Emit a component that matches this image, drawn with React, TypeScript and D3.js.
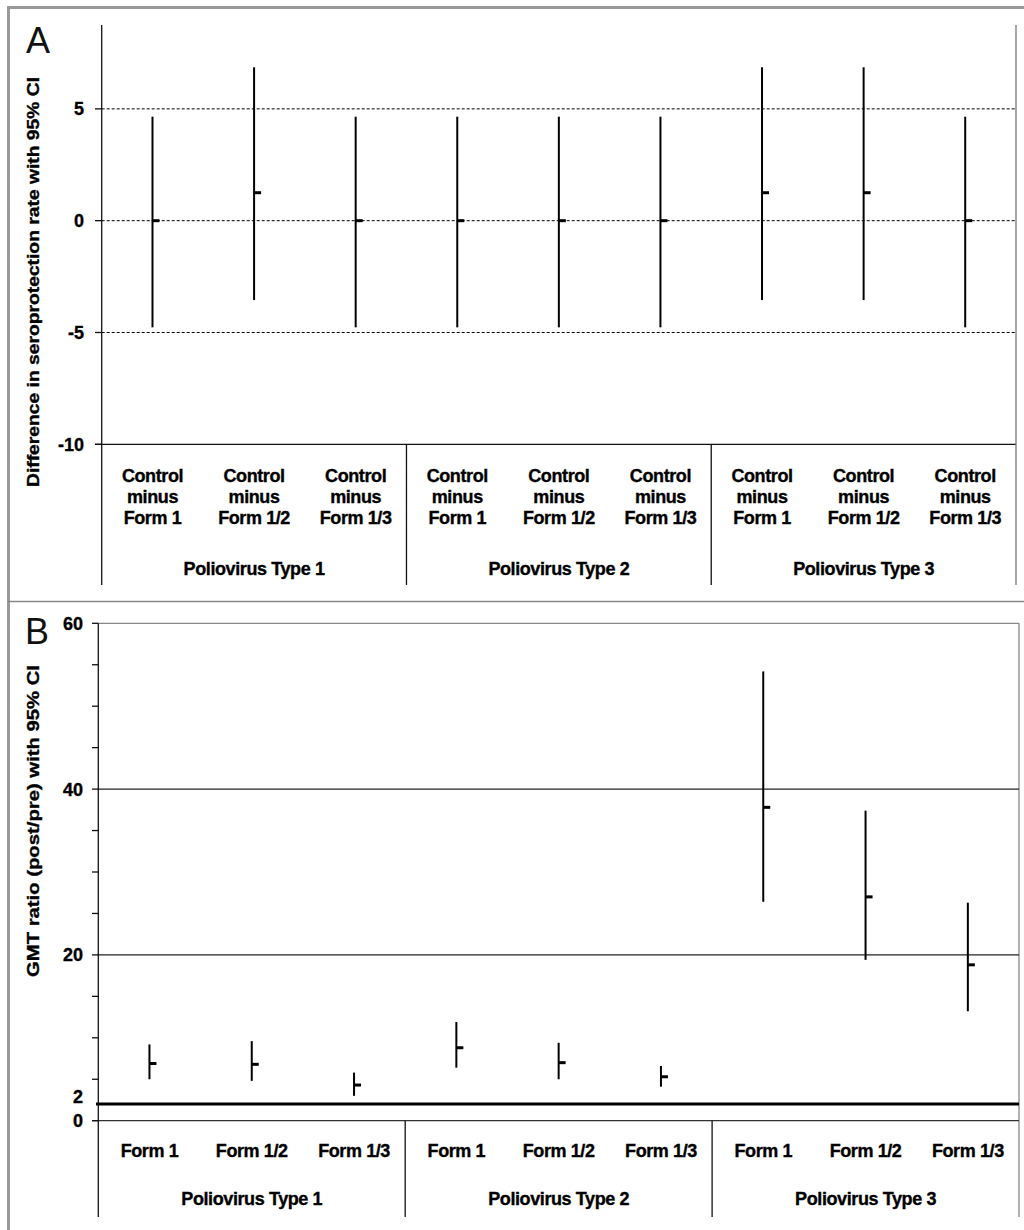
import React from 'react';
import * as d3 from 'd3';

// categories
const groups = ['Poliovirus Type 1', 'Poliovirus Type 2', 'Poliovirus Type 3'];
const forms = ['Form 1', 'Form 1/2', 'Form 1/3'];

// panel A: control minus form, difference in seroprotection rate (95% CI)
const diffPoint = [0, 1.25, 0, 0, 0, 0, 1.25, 1.25, 0];
const diffLow = [-4.77, -3.55, -4.77, -4.77, -4.77, -4.77, -3.55, -3.55, -4.77];
const diffHigh = [4.65, 6.86, 4.65, 4.65, 4.65, 4.65, 6.86, 6.86, 4.65];
const diffTicks = [5, 0, -5, -10];
const diffGrid = [5, 0, -5];

// panel B: GMT ratio (post/pre) with 95% CI
const gmtPoint = [6.9, 6.8, 4.3, 8.8, 7.0, 5.3, 37.8, 27.0, 18.8];
const gmtLow = [5.0, 4.8, 3.0, 6.4, 5.0, 4.1, 26.4, 19.4, 13.2];
const gmtHigh = [9.2, 9.6, 5.8, 11.9, 9.4, 6.6, 54.2, 37.4, 26.3];
const gmtTickLabels = [60, 40, 20, 2, 0];
const gmtMinorTicks = d3.range(0, 61, 5);
const gmtGrid = [40, 20];
const gmtThreshold = 2;

const FONT = '"Liberation Sans", Arial, Helvetica, sans-serif';
// the scanned labels look heavier than plain bold
const heavy = { stroke: '#000', strokeWidth: 0.35, paintOrder: 'stroke' } as const;

const cats = d3.range(9);

const ErrorBars: React.FC<{
  x: d3.ScaleBand<number>;
  y: d3.ScaleLinear<number, number>;
  pt: number[];
  lo: number[];
  hi: number[];
}> = ({ x, y, pt, lo, hi }) => (
  <g>
    {cats.map(i => {
      const cx = (x(i) ?? 0) + x.bandwidth() / 2;
      return (
        <g key={i}>
          <line x1={cx} x2={cx} y1={y(lo[i])} y2={y(hi[i])} stroke="#000" strokeWidth={2} />
          <line x1={cx} x2={cx + 7} y1={y(pt[i])} y2={y(pt[i])} stroke="#000" strokeWidth={3} />
        </g>
      );
    })}
  </g>
);

export default function App() {
  // panel A scales
  const xA = d3.scaleBand<number>().domain(cats).range([101.7, 1016]).padding(0);
  const yA = d3.scaleLinear().domain([-10, 8.75]).range([444.3, 25]);
  // panel B scales
  const xB = d3.scaleBand<number>().domain(cats).range([98.3, 1019]).padding(0);
  const yB = d3.scaleLinear().domain([0, 60]).range([1120.7, 623.3]);

  const groupW = (sc: d3.ScaleBand<number>) => sc.bandwidth() * 3;
  const bottomA = 585;
  const bottomB = 1217;

  return (
    <div style={{ position: 'absolute', left: 0, top: 0 }}>
      <svg width={1024} height={1230} style={{ display: 'block', background: '#fff' }} fontFamily={FONT}>
        {/* frame */}
        <line x1={8.5} x2={8.5} y1={6} y2={1230} stroke="#999" strokeWidth={3} />
        <line x1={7} x2={1024} y1={7.5} y2={7.5} stroke="#999" strokeWidth={3} />
        <line x1={8} x2={1024} y1={601.5} y2={601.5} stroke="#888" strokeWidth={1.5} />

        {/* ===== Panel A ===== */}
        <text x={26} y={53} fontSize={36} fill="#111">A</text>
        <text
          transform={`translate(39,282) rotate(-90)`}
          textAnchor="middle"
          fontSize={17}
          fontWeight="bold"
          textLength={410}
          lengthAdjust="spacingAndGlyphs"
          {...heavy}
        >
          Difference in seroprotection rate with 95% CI
        </text>

        {diffGrid.map(v => (
          <line key={v} x1={101.7} x2={1016} y1={yA(v)} y2={yA(v)} stroke="#000" strokeWidth={1} strokeDasharray="3,2" />
        ))}
        {/* x axis at -10 */}
        <line x1={95} x2={1016} y1={yA(-10)} y2={yA(-10)} stroke="#111" strokeWidth={1.3} />
        {/* y axis */}
        <line x1={101.7} x2={101.7} y1={yA(8.75)} y2={bottomA} stroke="#111" strokeWidth={1.3} />
        <line x1={1016} x2={1016} y1={yA(8.75)} y2={bottomA} stroke="#777" strokeWidth={1.3} />
        {diffTicks.map(v => (
          <g key={v}>
            <line x1={95} x2={101.7} y1={yA(v)} y2={yA(v)} stroke="#111" strokeWidth={1.3} />
            <text x={84} y={yA(v) + 6.5} textAnchor="end" fontSize={18} fontWeight="bold" {...heavy}>{v}</text>
          </g>
        ))}
        {/* group separators */}
        {[1, 2].map(g => {
          const gx = 101.7 + groupW(xA) * g;
          return <line key={g} x1={gx} x2={gx} y1={yA(-10)} y2={bottomA} stroke="#111" strokeWidth={1.3} />;
        })}
        {cats.map(i => {
          const cx = (xA(i) ?? 0) + xA.bandwidth() / 2;
          return (
            <text key={i} textAnchor="middle" fontSize={18} fontWeight="bold" letterSpacing={-0.4} {...heavy}>
              <tspan x={cx} y={482}>Control</tspan>
              <tspan x={cx} y={503}>minus</tspan>
              <tspan x={cx} y={524}>{forms[i % 3]}</tspan>
            </text>
          );
        })}
        {groups.map((g, gi) => (
          <text key={g} x={101.7 + groupW(xA) * (gi + 0.5)} y={575} textAnchor="middle" fontSize={18} fontWeight="bold" letterSpacing={-0.4} {...heavy}>
            {g}
          </text>
        ))}
        <ErrorBars x={xA} y={yA} pt={diffPoint} lo={diffLow} hi={diffHigh} />

        {/* ===== Panel B ===== */}
        <text x={25} y={644} fontSize={36} fill="#111">B</text>
        <text
          transform={`translate(39,821) rotate(-90)`}
          textAnchor="middle"
          fontSize={17}
          fontWeight="bold"
          textLength={312}
          lengthAdjust="spacingAndGlyphs"
          {...heavy}
        >
          GMT ratio (post/pre) with 95% CI
        </text>

        {/* plot box top + right */}
        <line x1={98.3} x2={1019} y1={yB(60)} y2={yB(60)} stroke="#888" strokeWidth={1.3} />
        <line x1={1019} x2={1019} y1={yB(60)} y2={bottomB} stroke="#888" strokeWidth={1.3} />
        {gmtGrid.map(v => (
          <line key={v} x1={98.3} x2={1019} y1={yB(v)} y2={yB(v)} stroke="#222" strokeWidth={1.1} />
        ))}
        {/* x axis at 0 */}
        <line x1={92} x2={1019} y1={yB(0)} y2={yB(0)} stroke="#333" strokeWidth={1.3} />
        {/* threshold line */}
        <line x1={96} x2={1019} y1={yB(gmtThreshold)} y2={yB(gmtThreshold)} stroke="#000" strokeWidth={3} />
        {/* y axis */}
        <line x1={98.3} x2={98.3} y1={yB(60)} y2={bottomB} stroke="#111" strokeWidth={1.3} />
        {gmtMinorTicks.map(v => (
          <line key={v} x1={92} x2={98.3} y1={yB(v)} y2={yB(v)} stroke="#111" strokeWidth={1.3} />
        ))}
        {gmtTickLabels.map(v => (
          <text key={v} x={83} y={yB(v) + (v === gmtThreshold ? -1 : 6.5)} textAnchor="end" fontSize={18} fontWeight="bold" {...heavy}>
            {v}
          </text>
        ))}
        {[1, 2].map(g => {
          const gx = 98.3 + groupW(xB) * g;
          return <line key={g} x1={gx} x2={gx} y1={yB(0)} y2={bottomB} stroke="#111" strokeWidth={1.3} />;
        })}
        {cats.map(i => {
          const cx = (xB(i) ?? 0) + xB.bandwidth() / 2;
          return (
            <text key={i} x={cx} y={1157} textAnchor="middle" fontSize={18} fontWeight="bold" letterSpacing={-0.4} {...heavy}>
              {forms[i % 3]}
            </text>
          );
        })}
        {groups.map((g, gi) => (
          <text key={g} x={98.3 + groupW(xB) * (gi + 0.5)} y={1205} textAnchor="middle" fontSize={18} fontWeight="bold" letterSpacing={-0.4} {...heavy}>
            {g}
          </text>
        ))}
        <ErrorBars x={xB} y={yB} pt={gmtPoint} lo={gmtLow} hi={gmtHigh} />
      </svg>
    </div>
  );
}
